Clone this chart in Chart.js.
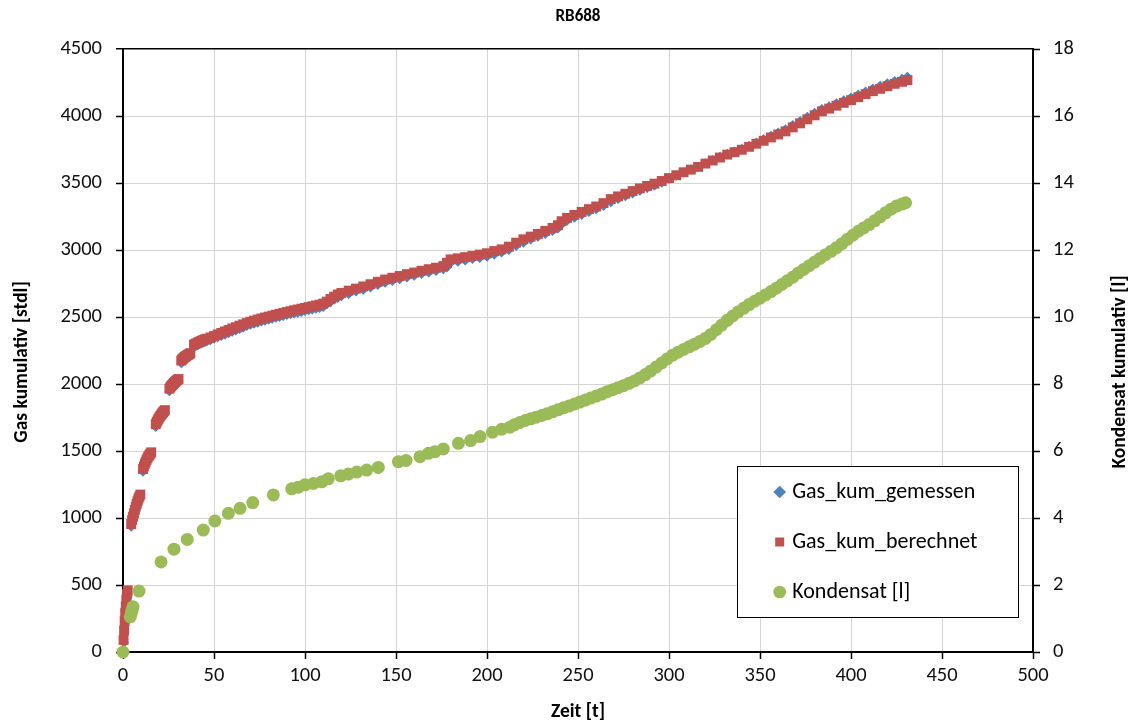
<!DOCTYPE html>
<html><head><meta charset="utf-8">
<script src="https://cdn.jsdelivr.net/npm/chart.js@4.4.0/dist/chart.umd.min.js"></script>
<style>html,body{margin:0;padding:0;background:#fff}#wrap{width:1137px;height:724px;position:relative}</style>
</head><body><div id="wrap"><canvas id="c"></canvas></div>
<script>
const chartTitle = 'RB688';
const xTitle = 'Zeit [t]';
const yTitle = 'Gas kumulativ [stdl]';
const y2Title = 'Kondensat kumulativ [l]';
const seriesNames = ['Gas_kum_gemessen', 'Gas_kum_berechnet', 'Kondensat [l]'];
const xTickValues = [0, 50, 100, 150, 200, 250, 300, 350, 400, 450, 500];
const yTickValues = [0, 500, 1000, 1500, 2000, 2500, 3000, 3500, 4000, 4500];
const y2TickValues = [0, 2, 4, 6, 8, 10, 12, 14, 16, 18];

// Gas: time [t]
const gasTime = [
  0.3, 0.6, 0.9, 1.2, 1.5, 1.8, 2.2, 2.6,
  4.5, 5, 5.5, 6, 6.5, 7, 7.5, 8, 8.5, 9, 9.5,
  11, 11.5, 12, 12.5, 13, 13.5, 14, 14.5, 15, 15.5,
  18, 18.5, 19, 19.5, 20, 20.5, 21, 21.5, 22, 22.5, 23,
  25.5, 26, 26.5, 27, 27.5, 28, 28.5, 29, 29.5, 30, 30.5,
  32, 32.5, 33, 33.5, 34, 34.5, 35, 35.5, 36, 36.5, 37,
  39, 40, 41, 42, 43, 44, 45, 46,
  48, 50, 52, 54, 56, 58, 60, 62, 64, 66, 68, 70, 72, 74, 76, 78, 80, 82, 84, 86, 88, 90, 92, 94, 96, 98, 100, 102, 104, 106, 108, 110,
  112, 114, 116, 118, 120,
  124, 128, 132, 136, 140, 144, 148, 152, 156, 160, 164, 168, 172, 176,
  178, 180,
  184, 188, 192, 196, 200, 204, 208, 212, 216, 220, 224, 228, 232, 236,
  239, 241,
  244, 248, 252, 256, 260, 264, 268, 272, 276, 280, 284, 288, 292, 296, 300, 304, 308, 312, 316, 320,
  324, 328, 332, 336, 340, 344, 348, 352, 356, 360, 364, 368, 372, 376, 380, 384, 388, 392, 396, 400,
  404, 408, 412, 416, 420, 424, 428,
  431
];
// Gas_kum_gemessen [stdl]
const gasMeasured = [
  0, 70, 150, 220, 280, 330, 380, 420,
  935, 962, 988, 1012, 1037, 1060, 1082, 1102, 1122, 1140, 1155,
  1345, 1365, 1385, 1400, 1415, 1430, 1442, 1452, 1462, 1472,
  1680, 1695, 1708, 1720, 1732, 1742, 1752, 1762, 1770, 1778, 1786,
  1945, 1955, 1965, 1973, 1980, 1988, 1995, 2001, 2007, 2013, 2018,
  2155, 2163, 2170, 2176, 2182, 2187, 2192, 2197, 2201, 2205, 2210,
  2275, 2283, 2290, 2296, 2302, 2308, 2313, 2318,
  2327, 2337, 2348, 2358, 2368, 2379, 2390, 2400, 2410, 2420, 2432, 2442, 2450, 2458, 2466, 2472, 2480, 2487, 2495, 2500, 2508, 2515, 2520, 2527, 2532, 2538, 2545, 2550, 2556, 2562, 2568, 2575,
  2595, 2610, 2628, 2642, 2655,
  2672, 2690, 2703, 2720, 2738, 2755, 2768, 2782, 2795, 2808, 2820, 2833, 2844, 2856,
  2870, 2905,
  2912, 2922, 2932, 2940, 2950, 2965, 2982, 3000, 3030, 3055, 3078, 3098, 3120, 3142,
  3160, 3190,
  3218, 3240, 3262, 3284, 3305, 3328, 3356, 3380, 3402, 3422, 3442, 3462, 3480, 3502, 3530, 3555, 3578, 3600, 3622, 3648,
  3672, 3695, 3718, 3736, 3755, 3778, 3803, 3828, 3853, 3877, 3902, 3933, 3963, 3995, 4025, 4052, 4072, 4095, 4117, 4138,
  4160, 4183, 4205, 4225, 4245, 4262, 4278,
  4292
];
// Gas_kum_berechnet [stdl]
const gasCalculated = [
  90, 160, 230, 290, 340, 390, 430, 460,
  955, 985, 1010, 1035, 1060, 1085, 1105, 1125, 1145, 1160, 1175,
  1365, 1385, 1405, 1420, 1435, 1450, 1460, 1470, 1480, 1490,
  1700, 1715, 1728, 1740, 1752, 1762, 1772, 1781, 1790, 1797, 1805,
  1965, 1975, 1985, 1993, 2000, 2008, 2015, 2021, 2027, 2032, 2037,
  2175, 2183, 2190, 2196, 2202, 2207, 2212, 2216, 2220, 2225, 2230,
  2295, 2302, 2309, 2316, 2322, 2328, 2333, 2338,
  2347, 2358, 2370, 2381, 2392, 2403, 2414, 2424, 2435, 2445, 2455, 2465, 2473, 2481, 2489, 2496, 2503, 2510, 2517, 2524, 2530, 2537, 2543, 2550, 2556, 2562, 2568, 2574, 2580, 2586, 2592, 2600,
  2615, 2635, 2652, 2668, 2680,
  2697, 2712, 2728, 2745, 2763, 2780, 2793, 2806, 2820, 2832, 2845, 2857, 2868, 2880,
  2905, 2930,
  2938, 2947, 2956, 2966, 2976, 2992, 3005, 3025, 3055, 3080, 3100, 3120, 3143, 3165,
  3185, 3215,
  3240, 3262, 3284, 3305, 3325, 3350, 3380, 3400, 3420, 3440, 3460, 3478, 3495, 3515, 3537, 3558, 3580, 3600, 3620, 3645,
  3668, 3690, 3712, 3730, 3748, 3770, 3793, 3815, 3840, 3862, 3885, 3915, 3945, 3975, 4005, 4035, 4055, 4077, 4098, 4118,
  4140, 4163, 4185, 4203, 4222, 4240, 4255,
  4268
];

// Kondensat: time [t]
const condTime = [
  0, 4, 4.5, 5, 5.5, 8.8, 20.9, 28, 35.3, 44.1,
  50.5, 57.9, 64.3, 71.3, 82.6, 92.7, 96.3, 100, 104.6, 109.2,
  112.8, 119.6, 123.8, 128.4, 133.9, 140.3, 151.3, 155.5, 163.2, 167.8,
  171.4, 176, 184.3, 191, 196.2, 203, 208, 212.6,
  215, 218, 221, 224, 227, 230, 233, 236, 239, 242,
  245, 248, 251, 254, 257, 260, 263, 266, 269, 272,
  275, 278, 281, 284, 287, 290, 293, 296, 299, 302,
  305, 308, 311, 314, 317, 320, 323, 326, 329, 332,
  335, 338, 341, 344, 347, 350, 353, 356, 359, 362,
  365, 368, 371, 374, 377, 380, 383, 386, 389, 392,
  395, 398, 401, 404, 407, 410, 413, 416, 419, 422,
  425, 428, 430
];
// Kondensat kumulativ [l]
const condValues = [
  0, 1.05, 1.15, 1.25, 1.35, 1.82, 2.69, 3.07, 3.36, 3.64,
  3.91, 4.14, 4.29, 4.46, 4.69, 4.87, 4.92, 4.99, 5.03, 5.08,
  5.17, 5.26, 5.31, 5.37, 5.43, 5.51, 5.68, 5.72, 5.83, 5.93,
  5.98, 6.06, 6.23, 6.31, 6.43, 6.56, 6.65, 6.71,
  6.78, 6.85, 6.91, 6.96, 7.01, 7.06, 7.11, 7.17, 7.23, 7.29,
  7.34, 7.40, 7.46, 7.52, 7.58, 7.64, 7.70, 7.77, 7.83, 7.89,
  7.95, 8.02, 8.09, 8.18, 8.28, 8.39, 8.51, 8.63, 8.75, 8.86,
  8.95, 9.03, 9.11, 9.19, 9.27, 9.36, 9.48, 9.62, 9.76, 9.90,
  10.03, 10.15, 10.26, 10.37, 10.47, 10.56, 10.66, 10.76, 10.86, 10.97,
  11.08, 11.19, 11.31, 11.42, 11.53, 11.64, 11.75, 11.86, 11.96, 12.07,
  12.19, 12.32, 12.44, 12.56, 12.66, 12.76, 12.87, 12.99, 13.11, 13.22,
  13.31, 13.37, 13.41
];

const FONT = 'Carlito, Lato, sans-serif';
function pairs(xs, ys) { const n = Math.min(xs.length, ys.length); const out = []; for (let i = 0; i < n; i++) out.push({x: xs[i], y: ys[i]}); return out; }

const AXIS_TITLE_SIZE = 19.5;
function patchVerticalTitle(scale, cx, cy) {
  if (!scale || scale._titlePatched) return;
  scale.drawTitle = function () {
    const t = this.options.title;
    if (!t.display) return;
    const ctx = this.ctx;
    ctx.save();
    ctx.font = 'bold ' + AXIS_TITLE_SIZE + 'px ' + FONT;
    ctx.fillStyle = '#000';
    ctx.textAlign = 'center';
    ctx.textBaseline = 'middle';
    ctx.translate(cx, cy);
    ctx.rotate(-Math.PI / 2);
    ctx.fillText(t.text, 0, 0);
    ctx.restore();
  };
  scale._titlePatched = true;
}
const layoutFix = {
  id: 'layoutFix',
  afterLayout(chart) {
    const lg = chart.legend;
    if (lg) {
      lg.left = 750.2; lg.top = 453; lg.right = 1019; lg.bottom = 720;
      lg.width = lg.right - lg.left; lg.height = lg.bottom - lg.top;
      if (!lg._boxPatched) {
        const orig = lg.draw;
        lg.draw = function (area) {
          const ctx = this.ctx;
          ctx.save();
          ctx.fillStyle = '#ffffff';
          ctx.fillRect(737, 466, 282, 152);
          ctx.strokeStyle = '#000000';
          ctx.lineWidth = 1;
          ctx.strokeRect(737.5, 466.5, 281, 151);
          ctx.restore();
          orig.call(this, area);
        };
        lg._boxPatched = true;
      }
    }
    patchVerticalTitle(chart.scales.y, 22, 362);
    patchVerticalTitle(chart.scales.y2, 1120, 372);
  }
};

const tickFont = {family: FONT, size: 20.5};
const titleFont = {family: FONT, size: AXIS_TITLE_SIZE, weight: 'bold'};
const plain = v => String(v);

new Chart(document.getElementById('c'), {
  type: 'scatter',
  data: {
    datasets: [
      {label: seriesNames[0], data: pairs(gasTime, gasMeasured), yAxisID: 'y', pointStyle: 'rectRot', pointRadius: 5, pointBorderWidth: 0, backgroundColor: '#4F81BD', borderColor: '#4F81BD', showLine: false, order: 3, clip: false},
      {label: seriesNames[1], data: pairs(gasTime, gasCalculated), yAxisID: 'y', pointStyle: 'rect', pointRadius: 7, pointBorderWidth: 0, backgroundColor: '#C0504D', borderColor: '#C0504D', showLine: false, order: 2, clip: false},
      {label: seriesNames[2], data: pairs(condTime, condValues), yAxisID: 'y2', pointStyle: 'circle', pointRadius: 6.5, pointBorderWidth: 0, backgroundColor: '#9BBB59', borderColor: '#9BBB59', showLine: false, order: 1, clip: false}
    ]
  },
  options: {
    responsive: true,
    maintainAspectRatio: false,
    animation: false,
    devicePixelRatio: 1,
    events: [],
    layout: {padding: 0},
    plugins: {
      title: {display: true, text: chartTitle, color: '#000', fullSize: false, font: {family: FONT, size: 17, weight: 'bold'}, padding: {top: 6.8, bottom: 21.8}},
      legend: {
        display: true, position: 'chartArea', align: 'start',
        labels: {usePointStyle: true, boxWidth: 3, boxHeight: 9, padding: 28, color: '#000', font: {family: FONT, size: 22},
          sort: (a, b) => a.datasetIndex - b.datasetIndex}
      },
      tooltip: {enabled: false}
    },
    scales: {
      x: {
        type: 'linear', position: 'bottom', min: 0, max: 500,
        afterBuildTicks: s => { s.ticks = xTickValues.map(v => ({value: v})); },
        afterFit: s => { s.height = 72; },
        grid: {color: '#d4d4d4', lineWidth: 1, tickColor: '#000', tickLength: 7, tickWidth: 1.5},
        border: {color: '#000', width: 2},
        ticks: {color: '#111', font: tickFont, padding: 5, maxRotation: 0, autoSkip: false, callback: plain},
        title: {display: true, text: xTitle, color: '#000', font: titleFont, padding: {top: 0, bottom: 0}}
      },
      y: {
        type: 'linear', position: 'left', min: 0, max: 4500,
        afterBuildTicks: s => { s.ticks = yTickValues.map(v => ({value: v})); },
        afterFit: s => { s.width = 123; },
        grid: {color: c => (c.tick && c.tick.value === 4500) ? '#000' : '#d4d4d4', lineWidth: c => (c.tick && c.tick.value === 4500) ? 1.5 : 1, tickColor: '#000', tickLength: 7, tickWidth: 1.5},
        border: {color: '#000', width: 2},
        ticks: {color: '#111', font: tickFont, padding: 14, autoSkip: false, callback: plain},
        title: {display: true, text: yTitle, color: '#000', font: titleFont}
      },
      y2: {
        type: 'linear', position: 'right', min: 0, max: 18,
        afterBuildTicks: s => { s.ticks = y2TickValues.map(v => ({value: v})); },
        afterFit: s => { s.width = 104; },
        grid: {drawOnChartArea: false, color: '#d4d4d4', tickColor: '#000', tickLength: 7, tickWidth: 1.5},
        border: {color: '#000', width: 2},
        ticks: {color: '#111', font: tickFont, padding: 13, autoSkip: false, callback: plain},
        title: {display: true, text: y2Title, color: '#000', font: titleFont}
      }
    }
  },
  plugins: [layoutFix]
});
</script>
</body></html>
